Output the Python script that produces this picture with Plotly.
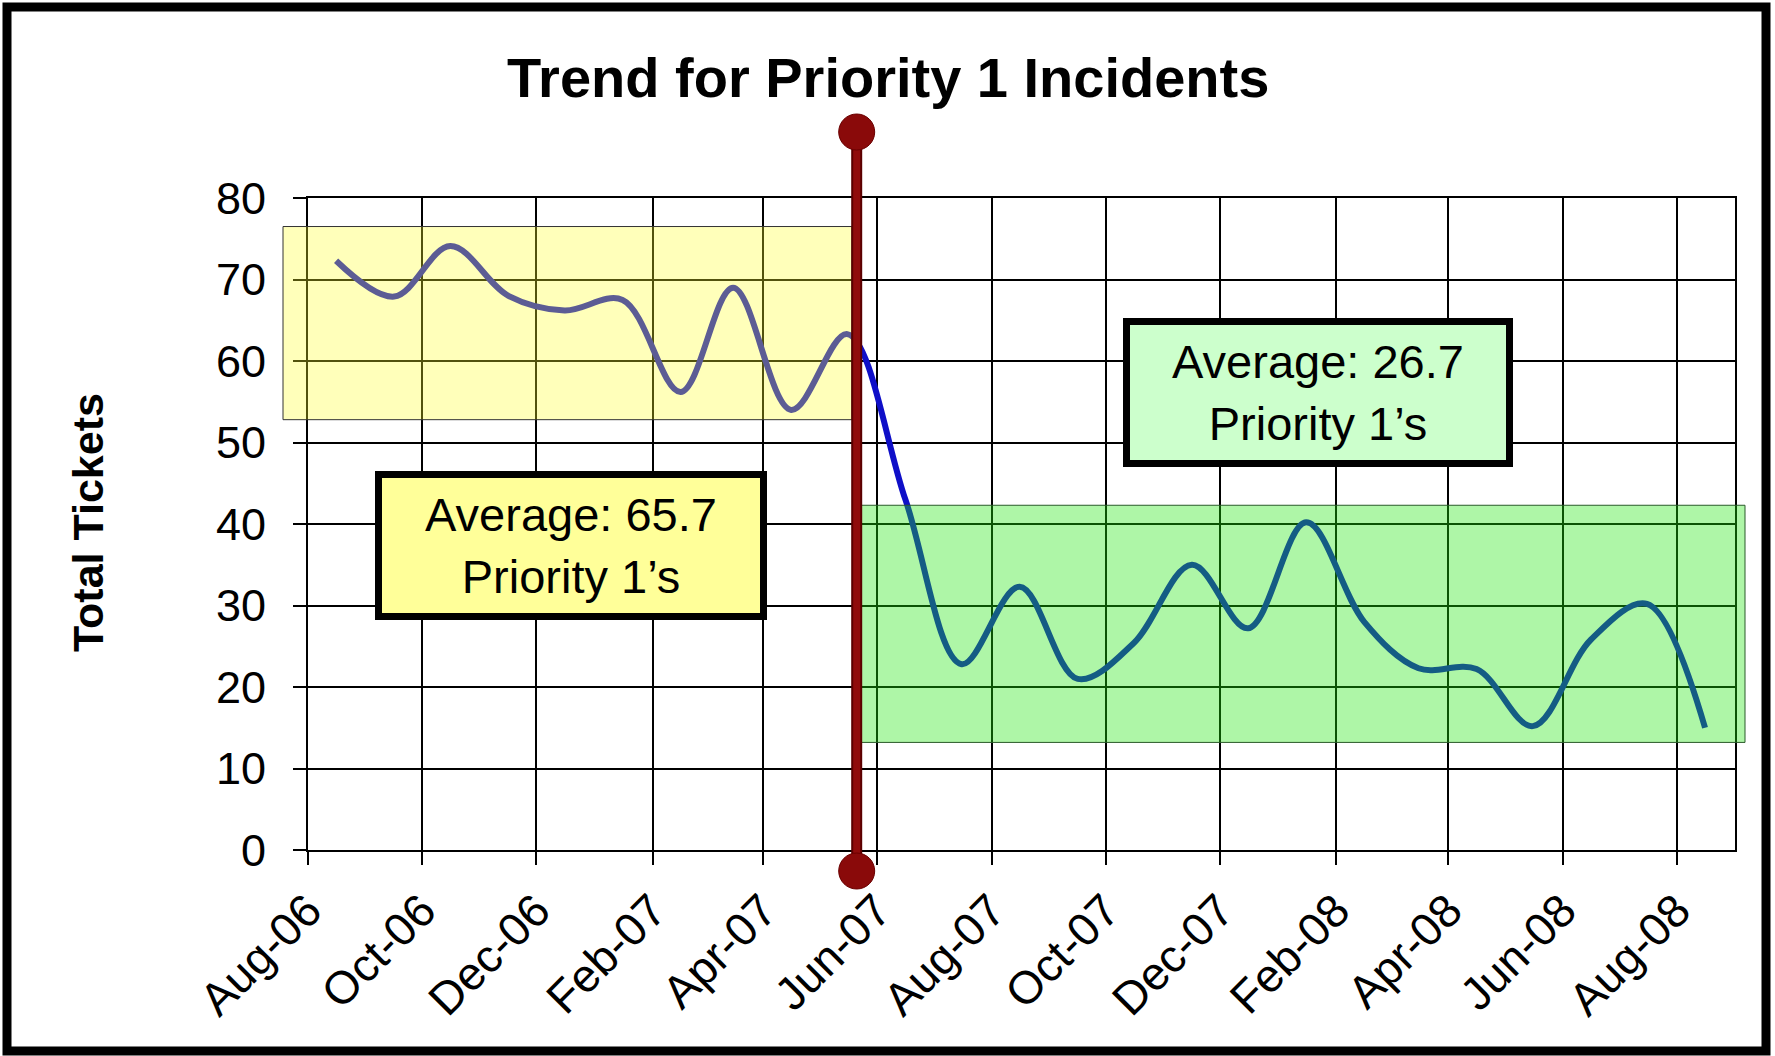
import pandas as pd
import plotly.graph_objects as go

# Monthly Priority 1 incident counts
months = ["2006-08", "2006-09", "2006-10", "2006-11", "2006-12", "2007-01", "2007-02",
          "2007-03", "2007-04", "2007-05", "2007-06", "2007-07", "2007-08", "2007-09",
          "2007-10", "2007-11", "2007-12", "2008-01", "2008-02", "2008-03", "2008-04",
          "2008-05", "2008-06", "2008-07", "2008-08"]
tickets = [72.3, 67.9, 74.1, 68.0, 66.2, 67.5, 56.2, 69.0, 54.0, 63.3, 43.0, 22.8, 32.3,
           21.0, 25.4, 35.0, 27.2, 40.2, 28.0, 22.3, 22.2, 15.2, 25.8, 30.2, 15.0]

# Process change date and the before/after averages
change_date = "2007-05-21"
avg_before = 65.7
avg_after = 26.7
before_band = (52.8, 76.5)
after_band = (13.2, 42.3)

title_text = "Trend for Priority 1 Incidents"
y_title = "Total Tickets"

FONT = "Liberation Sans, Arial, sans-serif"
W, H = 1775, 1056
L, R, T, B = 308, 40, 198, 206
PW, PH = W - L - R, H - T - B


def px_x(p):
    return (p - L) / PW


def px_y(p):
    return (H - B - p) / PH


# points sit in the middle of each month
x_mid = pd.to_datetime(months) + pd.Timedelta(days=15)

fig = go.Figure()
fig.add_trace(go.Scatter(
    x=x_mid, y=tickets, mode="lines",
    line=dict(color="#0f0fc8", width=6, shape="spline", smoothing=1.0),
    showlegend=False, hoverinfo="x+y",
))

shapes = []
# translucent highlight bands, drawn over the line
shapes.append(dict(type="rect", xref="paper", yref="y",
                   x0=px_x(283), x1=px_x(852), y0=before_band[0], y1=before_band[1],
                   fillcolor="rgba(255,255,40,0.32)", line=dict(color="#333333", width=1),
                   layer="above"))
shapes.append(dict(type="rect", xref="paper", yref="y",
                   x0=px_x(861), x1=px_x(1745), y0=after_band[0], y1=after_band[1],
                   fillcolor="rgba(30,230,10,0.36)", line=dict(color="#2a5a2a", width=1),
                   layer="above"))
# change marker: vertical bar with round ends
shapes.append(dict(type="line", xref="x", yref="paper",
                   x0=change_date, x1=change_date, y0=px_y(871), y1=px_y(132),
                   line=dict(color="#5a0000", width=11), layer="above"))
shapes.append(dict(type="line", xref="x", yref="paper",
                   x0=change_date, x1=change_date, y0=px_y(871), y1=px_y(132),
                   line=dict(color="#900c0c", width=7), layer="above"))
for cy in (132, 871):
    shapes.append(dict(type="circle", xref="x", yref="paper",
                       xsizemode="pixel", ysizemode="pixel",
                       xanchor=change_date, yanchor=px_y(cy),
                       x0=-18, x1=18, y0=-18, y1=18,
                       fillcolor="#8a0a0a", line=dict(color="#6a0000", width=1),
                       layer="above"))
# outer frame
shapes.append(dict(type="rect", xref="paper", yref="paper",
                   x0=px_x(7), x1=px_x(1766), y0=px_y(1051), y1=px_y(7),
                   line=dict(color="black", width=9), fillcolor="rgba(0,0,0,0)",
                   layer="above"))

annotations = [
    dict(text=title_text, xref="paper", yref="paper", x=px_x(888), y=px_y(77),
         xanchor="center", yanchor="middle", showarrow=False,
         font=dict(family=FONT, size=56, color="black", weight="bold")),
    dict(text=y_title, xref="paper", yref="paper", x=px_x(88), y=px_y(523),
         xanchor="center", yanchor="middle", showarrow=False, textangle=-90,
         font=dict(family=FONT, size=43, color="black", weight="bold")),
    dict(text=f"Average: {avg_before}<br>Priority 1’s", xref="paper", yref="paper",
         x=px_x(571), y=px_y(545.5), xanchor="center", yanchor="middle",
         showarrow=False, width=378, height=135, align="center", valign="middle",
         bgcolor="#ffff99", bordercolor="black", borderwidth=7, borderpad=0,
         font=dict(family=FONT, size=47, color="black")),
    dict(text=f"Average: {avg_after}<br>Priority 1’s", xref="paper", yref="paper",
         x=px_x(1318), y=px_y(392.5), xanchor="center", yanchor="middle",
         showarrow=False, width=376, height=135, align="center", valign="middle",
         bgcolor="#ccffcc", bordercolor="black", borderwidth=7, borderpad=0,
         font=dict(family=FONT, size=47, color="black")),
]

fig.update_layout(
    template="none",
    width=W, height=H,
    margin=dict(l=L, r=R, t=T, b=B, pad=0),
    paper_bgcolor="white", plot_bgcolor="white",
    shapes=shapes, annotations=annotations,
    xaxis=dict(
        type="date", range=["2006-08-01", "2008-09-01"],
        tick0="2006-08-01", dtick="M2", tickformat="%b-%y", tickangle=-45,
        showgrid=True, gridcolor="black", gridwidth=2,
        showline=True, linecolor="black", linewidth=2, mirror=True,
        ticks="outside", ticklen=13, tickwidth=2, tickcolor="black",
        ticklabelstandoff=0,
        tickfont=dict(family=FONT, size=46, color="black"),
        automargin=False, zeroline=False, fixedrange=True,
    ),
    yaxis=dict(
        range=[0, 80], dtick=10, tick0=0,
        showgrid=True, gridcolor="black", gridwidth=2,
        showline=True, linecolor="black", linewidth=2, mirror=True,
        ticks="outside", ticklen=13, tickwidth=2, tickcolor="black",
        ticklabelstandoff=18,
        tickfont=dict(family=FONT, size=45, color="black"),
        automargin=False, zeroline=False, fixedrange=True,
    ),
)

fig.write_html("out.html")
